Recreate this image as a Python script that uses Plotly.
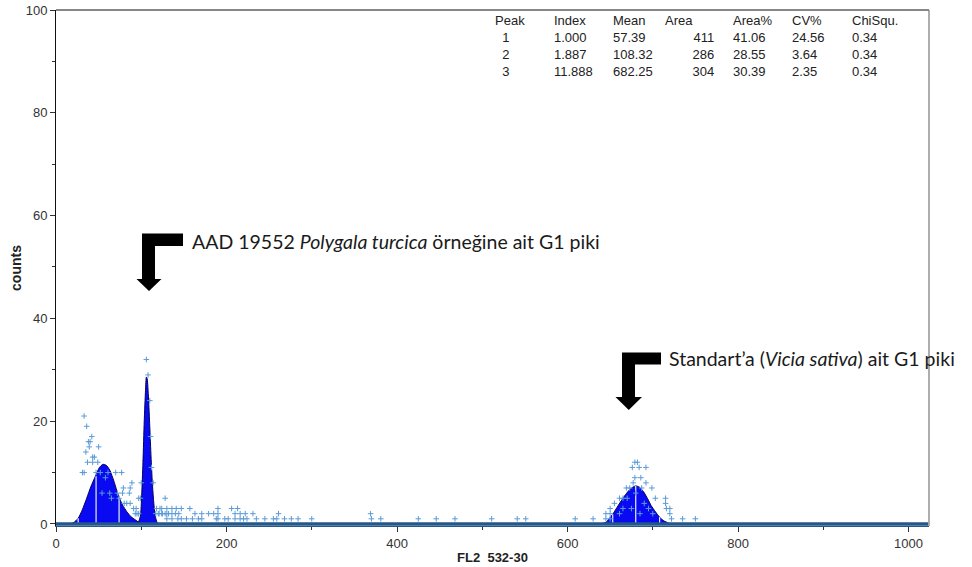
import plotly.graph_objects as go

# ---------------- data ----------------
# fitted peak curves (channel, counts)
peak1_x = [16, 21, 26, 31, 36, 41, 46, 51, 55, 59, 63, 68, 73, 78, 83, 88, 93, 97, 99]
peak1_y = [0, 0.3, 1.1, 2.8, 5.0, 7.3, 9.2, 11.0, 11.6, 11.4, 10.5, 8.3, 5.6, 3.7, 2.4, 1.4, 0.8, 0.3, 0]
peak2_x = [96, 99, 100.5, 102, 103.5, 105, 106, 107, 108.5, 110, 111.5, 113, 114.5, 116, 118, 120]
peak2_y = [0, 1.5, 5.5, 12, 20, 26, 28.6, 28.2, 24.5, 19, 13, 8, 4.5, 2, 0.5, 0]
peak3_x = [638, 645, 653, 658, 663, 668, 673, 677, 680, 684, 689, 694, 698, 703, 708, 713, 718, 722]
peak3_y = [0, 0.3, 1.9, 3.2, 4.5, 5.7, 6.7, 7.2, 7.4, 7.2, 6.3, 4.9, 3.6, 2.4, 1.3, 0.6, 0.2, 0]

# region marker lines inside the peaks
marker_x = [26, 47, 74, 653, 680, 708]
marker_h = [1.1, 9.3, 5.3, 1.9, 7.4, 1.3]

# histogram events (channel, counts)
events_x = [33, 36, 42, 38, 40, 39, 50, 35, 43, 45, 37, 43, 49, 31, 33, 47, 52, 61, 70, 77, 58, 89, 79, 87,
            54, 63, 72, 78, 86, 65, 74, 97, 128, 80, 83, 87, 91, 94, 118, 122, 124, 93, 95, 97, 117, 121, 125, 130,
            106, 108, 110, 111, 112, 114, 100, 99,
            130, 136, 141, 147, 157, 190, 206, 213,
            120, 124, 128, 132, 136, 140, 144, 163, 171, 179, 185, 190, 210, 216, 222, 231, 261, 369,
            130, 136, 143, 147, 153, 160, 167, 171, 188, 190, 198, 202, 210, 216, 220, 224, 235, 245, 255, 259,
            268, 276, 284, 300, 370, 381, 425, 446, 468, 511, 541, 551, 609, 630, 735, 750,
            679, 682, 676, 684, 692, 679, 686, 677, 692, 669, 673, 687, 699, 661, 665, 703, 715, 655, 715,
            650, 716, 720, 645, 650, 661, 720, 645, 650, 722, 670, 680, 690, 675, 685, 695, 665, 700]
events_y = [21, 19, 17, 16, 16, 15, 15, 14, 13, 13, 12, 12, 12, 10, 10, 10, 10, 10, 10, 10, 9, 8, 7, 7,
            6, 6, 6, 6, 6, 5, 5, 5, 5, 4, 4, 4, 3, 3, 3, 3, 3, 2, 2, 2, 2, 2, 2, 2,
            32, 29, 24, 17, 11, 8, 8, 5,
            3, 3, 3, 3, 3, 3, 3, 3,
            2, 2, 2, 2, 2, 2, 2, 2, 2, 2, 2, 2, 2, 2, 2, 2, 2, 2,
            1, 1, 1, 1, 1, 1, 1, 1, 1, 1, 1, 1, 1, 1, 1, 1, 1, 1, 1, 1,
            1, 1, 1, 1, 1, 1, 1, 1, 1, 1, 1, 1, 1, 1, 1, 1,
            12, 12, 11, 11, 11, 9, 9, 8, 8, 7, 7, 7, 7, 5, 5, 5, 5, 4, 4,
            3, 3, 3, 2, 2, 2, 2, 1, 1, 1, 5, 6, 4, 3, 2, 3, 3, 2]

# zero-count channels baseline
baseline_x = [0, 1023]
baseline_y = [0, 0]

# statistics table
table_header = ["Peak", "Index", "Mean", "Area", "Area%", "CV%", "ChiSqu."]
table_peak = ["1", "2", "3"]
table_index = ["1.000", "1.887", "11.888"]
table_mean = ["57.39", "108.32", "682.25"]
table_area = ["411", "286", "304"]
table_areapct = ["41.06", "28.55", "30.39"]
table_cv = ["24.56", "3.64", "2.35"]
table_chi = ["0.34", "0.34", "0.34"]

x_ticks = [0, 200, 400, 600, 800, 1000]
y_ticks = [0, 20, 40, 60, 80, 100]

# ---------------- layout helpers ----------------
W, H = 972, 567
L, R, T, B = 56, 43, 10, 41
PW, PH = W - L - R, H - T - B


def px(x):
    return (x - L) / PW


def py(y):
    return (H - B - y) / PH


fig = go.Figure()

fill_col = "#0a0af2"
edge_col = "#000060"
for xs, ys in [(peak1_x, peak1_y), (peak2_x, peak2_y), (peak3_x, peak3_y)]:
    fig.add_trace(go.Scatter(x=xs, y=ys, mode="lines", fill="tozeroy",
                             line=dict(color=edge_col, width=1, shape="spline", smoothing=0.6),
                             fillcolor=fill_col, hoverinfo="skip", showlegend=False))

mx, my = [], []
for x, h in zip(marker_x, marker_h):
    mx += [x, x, None]
    my += [0, h, None]
fig.add_trace(go.Scatter(x=mx, y=my, mode="lines", line=dict(color="#e8eefc", width=1.2),
                         hoverinfo="skip", showlegend=False))

fig.add_trace(go.Scatter(x=events_x, y=events_y, mode="markers",
                         marker=dict(symbol="cross-thin", size=4, line=dict(width=1, color="#5b9bd8")),
                         showlegend=False, hoverinfo="skip"))

fig.add_trace(go.Scatter(x=baseline_x, y=baseline_y, mode="lines",
                         line=dict(color="#24578a", width=3.5), showlegend=False, hoverinfo="skip"))

tickfont = dict(family="Liberation Sans, Arial", size=13, color="#333333")
fig.update_layout(
    width=W, height=H,
    margin=dict(l=L, r=R, t=T, b=B, pad=0),
    paper_bgcolor="white", plot_bgcolor="white",
    xaxis=dict(range=[0, 1024], tickvals=x_ticks, ticktext=[str(v) for v in x_ticks], automargin=False,
               ticks="outside", ticklen=5, tickcolor="#333", showgrid=False, zeroline=False,
               showline=True, linecolor="#24578a", linewidth=1, tickfont=tickfont,
               minor=dict(ticks="outside", ticklen=3, dtick=100, tick0=0, tickcolor="#333"),
               title=dict(text="<b>FL2  532-30</b>", standoff=3,
                          font=dict(family="Liberation Sans Narrow, Liberation Sans, Arial", size=13, color="#222"))),
    yaxis=dict(range=[-0.4, 100], tickvals=y_ticks, ticktext=[str(v) for v in y_ticks], automargin=False,
               ticks="outside", ticklen=5, tickcolor="#333", showgrid=False, zeroline=False,
               showline=True, linecolor="#111", linewidth=1, tickfont=tickfont,
               minor=dict(ticks="outside", ticklen=3, dtick=10, tick0=0, tickcolor="#333"),
               title=dict(text="<b>counts</b>", standoff=0,
                          font=dict(family="Liberation Sans, Arial", size=14, color="#222"))),
)

# frame: top (black) and right (gray)
fig.add_shape(type="line", xref="paper", yref="paper", x0=0, x1=1, y0=1, y1=1,
              line=dict(color="#111", width=1))
fig.add_shape(type="line", xref="paper", yref="paper", x0=1, x1=1, y0=0, y1=1,
              line=dict(color="#777", width=1.2))

# elbow arrows
def elbow(x_stem0, x_stem1, x_bar1, y_bar0, y_bar1, y_head, head0, head1, y_tip):
    xm = (head0 + head1) / 2
    pts = [(x_stem0, y_bar0), (x_bar1, y_bar0), (x_bar1, y_bar1), (x_stem1, y_bar1),
           (x_stem1, y_head), (head1, y_head), (xm, y_tip), (head0, y_head), (x_stem0, y_head)]
    path = "M " + " L ".join(f"{px(a):.5f},{py(b):.5f}" for a, b in pts) + " Z"
    fig.add_shape(type="path", xref="paper", yref="paper", path=path,
                  fillcolor="black", line=dict(color="black", width=0))

elbow(142, 155, 183, 233.5, 246, 279, 136.5, 161.5, 291)
elbow(622, 635, 661, 352.5, 364.5, 397, 615.5, 642, 410)

fig.add_annotation(xref="paper", yref="paper", x=px(190), y=py(241), xanchor="left", yanchor="middle",
                   text="AAD 19552 <i>Polygala turcica</i> örneğine ait G1 piki", showarrow=False,
                   font=dict(family="Lato, Noto Sans, sans-serif", size=19.5, color="#1a1a1a"))
fig.add_annotation(xref="paper", yref="paper", x=px(667), y=py(358), xanchor="left", yanchor="middle",
                   text="Standart’a (<i>Vicia sativa</i>) ait G1 piki", showarrow=False,
                   font=dict(family="Lato, Noto Sans, sans-serif", size=19.5, color="#1a1a1a"))

# statistics table: one text block per column
tfont = dict(family="Liberation Sans, Arial", size=13, color="#222")
br = "<br>"
columns = [
    (493, "left", table_header[0] + br + br.join("&nbsp;&nbsp;" + v for v in table_peak)),
    (552, "left", br.join([table_header[1]] + table_index)),
    (611, "left", br.join([table_header[2]] + table_mean)),
    (716, "right", table_header[3] + "&nbsp;&nbsp;&nbsp;&nbsp;&nbsp;&nbsp;" + br + br.join(table_area)),
    (731, "left", br.join([table_header[4]] + table_areapct)),
    (790, "left", br.join([table_header[5]] + table_cv)),
    (850, "left", br.join([table_header[6]] + table_chi)),
]
for xx, anc, txt in columns:
    fig.add_annotation(xref="paper", yref="paper", x=px(xx), y=py(11), xanchor=anc, yanchor="top",
                       align=anc, text=txt, showarrow=False, font=tfont)

fig.write_html("out.html")
